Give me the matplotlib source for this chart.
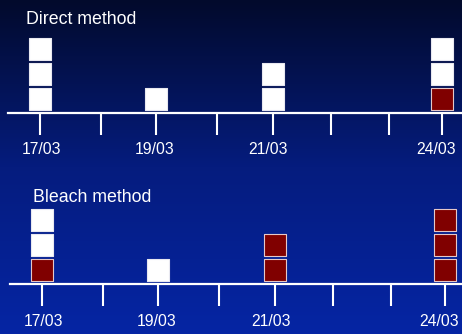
import numpy as np
import matplotlib
matplotlib.use('Agg')
import matplotlib.pyplot as plt
from matplotlib.colors import LinearSegmentedColormap

plt.rcParams['font.family'] = ['Liberation Sans', 'DejaVu Sans']

# Data: day grid as drawn on the slide (slightly uneven spacing)
tick_pos = [17, 18.06, 19.02, 20.08, 21.05, 22.06, 23.07, 24]
date_labels = ['17/03', '19/03', '21/03', '24/03']
label_pos = [17.02, 18.99, 20.97, 23.89]

# stacks of results per sampled day (bottom -> top), w = white, r = red
sample_idx = [0, 2, 4, 7]
direct_stacks = [['w', 'w', 'w'], ['w'], ['w', 'w'], ['r', 'w', 'w']]
bleach_stacks = [['r', 'w', 'w'], ['w'], ['r', 'r'], ['r', 'r', 'r']]

W, H = 462, 334
fig = plt.figure(figsize=(W / 100, H / 100), dpi=100)

# Background gradient
bg = fig.add_axes([0, 0, 1, 1])
cmap = LinearSegmentedColormap.from_list(
    'bg', [(0.0, '#020a2c'), (0.5, '#051c7e'), (1.0, '#0625a4')])
grad = np.linspace(0, 1, 256).reshape(-1, 1)
bg.imshow(grad, aspect='auto', cmap=cmap, extent=[0, 1, 0, 1], origin='upper')
bg.axis('off')

face = {'w': 'white', 'r': '#800000'}
edge = {'w': '#e8e8f0', 'r': '#e6c8c8'}


def panel(left_px, axis_px, xlim, stacks, title, title_xy):
    ax = fig.add_axes([left_px / W, 1 - axis_px / H, 1 - left_px / W, 83 / H])
    ax.set_facecolor('none')
    for k, stack in zip(sample_idx, stacks):
        x = tick_pos[k]
        for i, c in enumerate(stack):
            ax.scatter(x, 0.56 + i, marker='s', s=232, c=face[c],
                       edgecolors=edge[c], linewidths=0.8, zorder=3,
                       clip_on=False)
    ax.set_xlim(*xlim)
    ax.set_ylim(0, 83 / 25)
    for s in ['top', 'right', 'left']:
        ax.spines[s].set_visible(False)
    ax.spines['bottom'].set_color('white')
    ax.spines['bottom'].set_linewidth(1.6)
    ax.set_yticks([])
    ax.set_xticks(tick_pos)
    ax.set_xticklabels([])
    ax.tick_params(axis='x', direction='out', length=15.8, width=1.5,
                   colors='white')
    for x, lab in zip(label_pos, date_labels):
        ax.text(x, -37 / 83, lab, transform=ax.get_xaxis_transform(),
                color='white', fontsize=11.3, ha='center', va='center')
    fig.text(title_xy[0] / W, 1 - title_xy[1] / H, title, color='white',
             fontsize=12.8, ha='left', va='center')
    return ax


panel(8, 113, (16.443, 24.348), direct_stacks, 'Direct method', (26, 20))
panel(10, 284, (16.444, 24.295), bleach_stacks, 'Bleach method', (33, 198))

fig.savefig('out.png', dpi=100)
